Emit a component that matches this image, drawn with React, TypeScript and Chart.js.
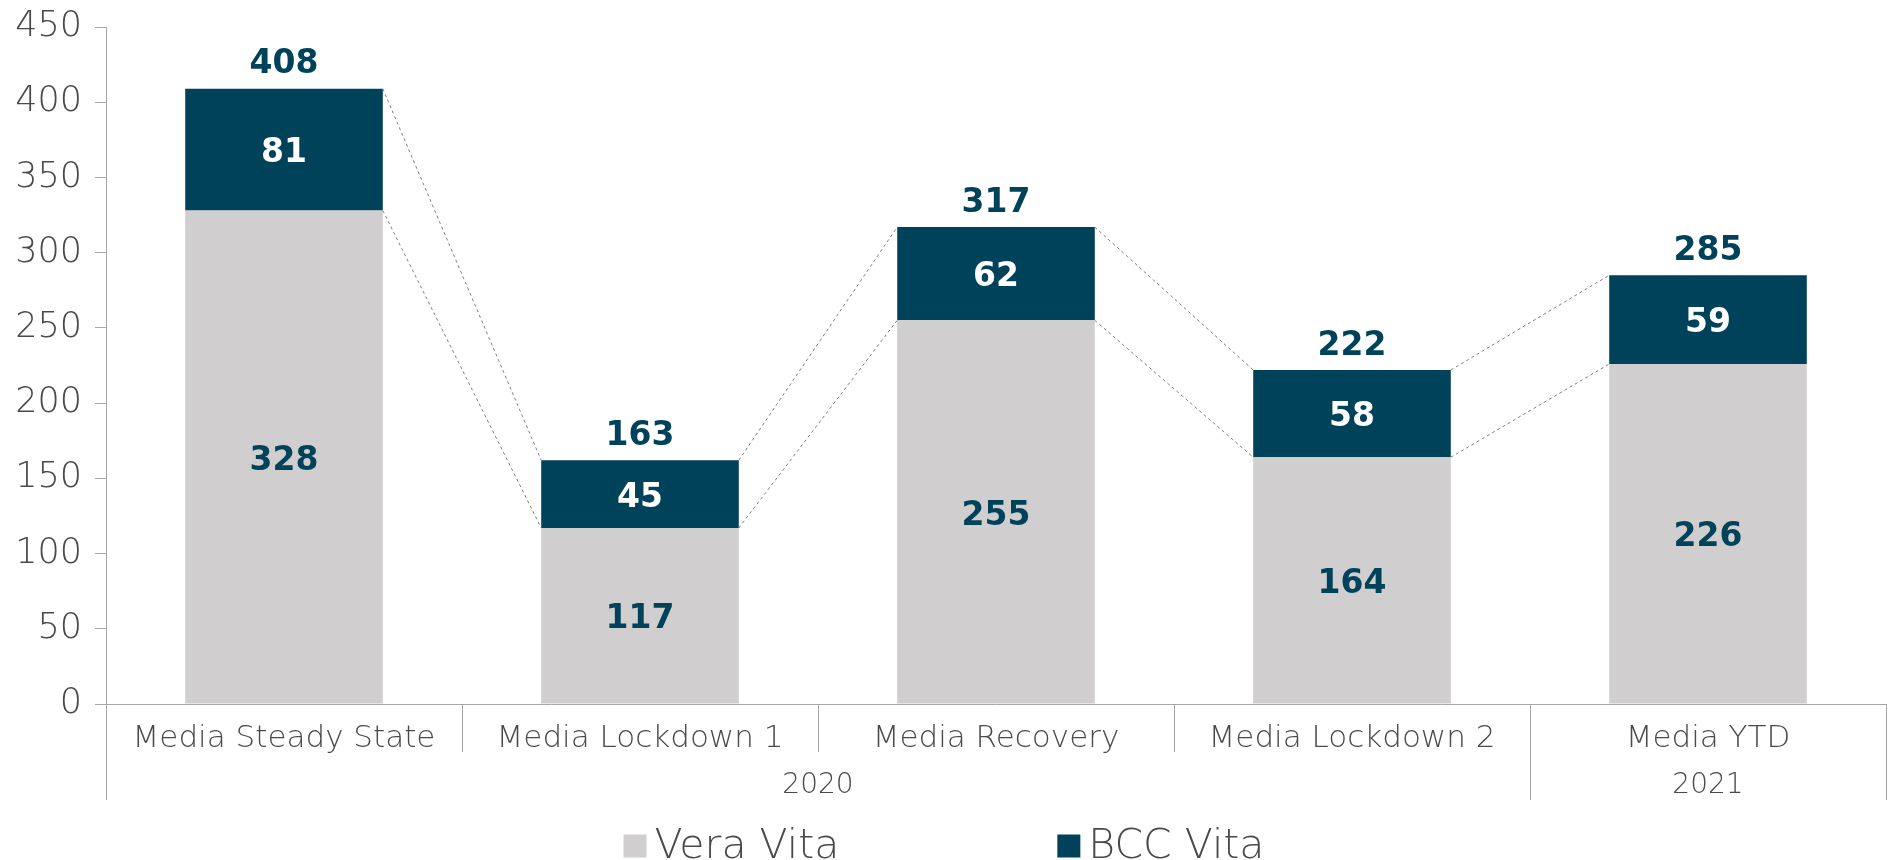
import React, { useEffect, useRef } from "react";
import { Chart, registerables } from "chart.js";

Chart.register(...registerables);

const categories = ["Media Steady State", "Media Lockdown 1", "Media Recovery", "Media Lockdown 2", "Media YTD"];
const veraVita = [328, 117, 255, 164, 226];
const bccVita = [81, 45, 62, 58, 59];
const totals = [408, 163, 317, 222, 285];
const yearGroups = [
  { label: "2020", from: 0, to: 3 },
  { label: "2021", from: 4, to: 4 },
];
const seriesNames = ["Vera Vita", "BCC Vita"];

const DARK = "#004259";
const LIGHT = "#D0CECF";
const TEXT = "#4A4A4A";
const AXIS = "#A6A6A6";
const FONT = "'DejaVu Sans', 'Noto Sans', sans-serif";

const decorPlugin = {
  id: "decor",
  afterDatasetsDraw(chart: any) {
    const ctx = chart.ctx;
    const m0 = chart.getDatasetMeta(0);
    const m1 = chart.getDatasetMeta(1);
    const xs = chart.scales.x;
    const area = chart.chartArea;

    // dashed connectors
    ctx.save();
    ctx.strokeStyle = "#7F7F7F";
    ctx.lineWidth = 1;
    ctx.setLineDash([3, 3]);
    [m0, m1].forEach((meta: any) => {
      for (let i = 0; i < meta.data.length - 1; i++) {
        const a = meta.data[i];
        const b = meta.data[i + 1];
        ctx.beginPath();
        ctx.moveTo(a.x + a.width / 2, a.y);
        ctx.lineTo(b.x - b.width / 2, b.y);
        ctx.stroke();
      }
    });
    ctx.restore();

    // data labels
    ctx.save();
    ctx.textAlign = "center";
    ctx.textBaseline = "middle";
    ctx.font = `bold 33px ${FONT}`;
    const dy = 4;
    m0.data.forEach((bar: any, i: number) => {
      ctx.fillStyle = DARK;
      ctx.fillText(String(veraVita[i]), bar.x, (bar.y + bar.base) / 2 + dy);
    });
    m1.data.forEach((bar: any, i: number) => {
      ctx.fillStyle = "#FFFFFF";
      ctx.fillText(String(bccVita[i]), bar.x, (bar.y + bar.base) / 2 + dy);
      ctx.fillStyle = DARK;
      ctx.fillText(String(totals[i]), bar.x, bar.y - 28 + dy);
    });
    ctx.restore();

    // x-axis separators and group labels
    const half = (xs.getPixelForValue(1) - xs.getPixelForValue(0)) / 2;
    const boundary = (i: number) => xs.getPixelForValue(0) - half + i * 2 * half;
    const groupEdges = new Set<number>();
    yearGroups.forEach((g) => {
      groupEdges.add(g.from);
      groupEdges.add(g.to + 1);
    });
    ctx.save();
    ctx.strokeStyle = AXIS;
    ctx.lineWidth = 1;
    for (let i = 0; i <= categories.length; i++) {
      const x = Math.round(boundary(i)) + 0.5;
      const long = groupEdges.has(i);
      ctx.beginPath();
      ctx.moveTo(x, area.bottom);
      ctx.lineTo(x, area.bottom + (long ? 96 : 48));
      ctx.stroke();
    }
    ctx.fillStyle = TEXT;
    ctx.textAlign = "center";
    ctx.textBaseline = "middle";
    ctx.font = `300 28px ${FONT}`;
    yearGroups.forEach((g) => {
      const cx = (boundary(g.from) + boundary(g.to + 1)) / 2;
      ctx.fillText(g.label, cx, area.bottom + 82);
    });

    // legend
    ctx.font = `300 41px ${FONT}`;
    ctx.textAlign = "left";
    const box = 23;
    const gapText = 8;
    const gapItems = 218;
    const widths = seriesNames.map((n) => box + gapText + ctx.measureText(n).width);
    const total = widths.reduce((s, w) => s + w, 0) + gapItems * (widths.length - 1);
    let x = chart.width / 2 - total / 2;
    const ly = 846;
    const colors = [LIGHT, DARK];
    seriesNames.forEach((n, i) => {
      ctx.fillStyle = colors[i];
      ctx.fillRect(x, ly - box / 2, box, box);
      ctx.fillStyle = TEXT;
      ctx.fillText(n, x + box + gapText, ly + 1);
      x += widths[i] + gapItems;
    });
    ctx.restore();
  },
};

export default function App() {
  const ref = useRef<HTMLCanvasElement | null>(null);
  useEffect(() => {
    if (!ref.current) return;
    const chart = new Chart(ref.current, {
      type: "bar",
      data: {
        labels: categories,
        datasets: [
          { label: seriesNames[0], data: veraVita, backgroundColor: LIGHT, barPercentage: 0.555, categoryPercentage: 1 },
          { label: seriesNames[1], data: bccVita, backgroundColor: DARK, barPercentage: 0.555, categoryPercentage: 1 },
        ],
      },
      options: {
        animation: false,
        responsive: true,
        maintainAspectRatio: false,
        layout: { padding: { top: 27, right: 2, left: 0, bottom: 0 } },
        plugins: { legend: { display: false }, tooltip: { enabled: false } },
        scales: {
          x: {
            stacked: true,
            grid: { display: false, drawTicks: false },
            border: { display: true, color: AXIS, width: 1 },
            ticks: { color: TEXT, font: { family: FONT, size: 31, weight: "300" as any }, padding: 16, maxRotation: 0, autoSkip: false },
            afterFit(scale: any) {
              scale.height = 156;
              scale.paddingLeft = 0;
              scale.paddingRight = 0;
            },
          },
          y: {
            stacked: true,
            min: 0,
            max: 450,
            grid: { drawOnChartArea: false, drawTicks: true, tickLength: 11, color: AXIS },
            border: { display: true, color: AXIS, width: 1 },
            ticks: { stepSize: 50, color: TEXT, font: { family: FONT, size: 35, weight: "300" as any }, padding: 13 },
            afterFit(scale: any) {
              scale.width = 106;
              scale.paddingTop = 0;
              scale.paddingBottom = 0;
            },
          },
        },
      },
      plugins: [decorPlugin],
    });
    return () => chart.destroy();
  }, []);
  return (
    <div style={{ position: "fixed", left: 0, top: 0, width: 1888, height: 860, background: "#fff" }}>
      <canvas ref={ref} />
    </div>
  );
}
